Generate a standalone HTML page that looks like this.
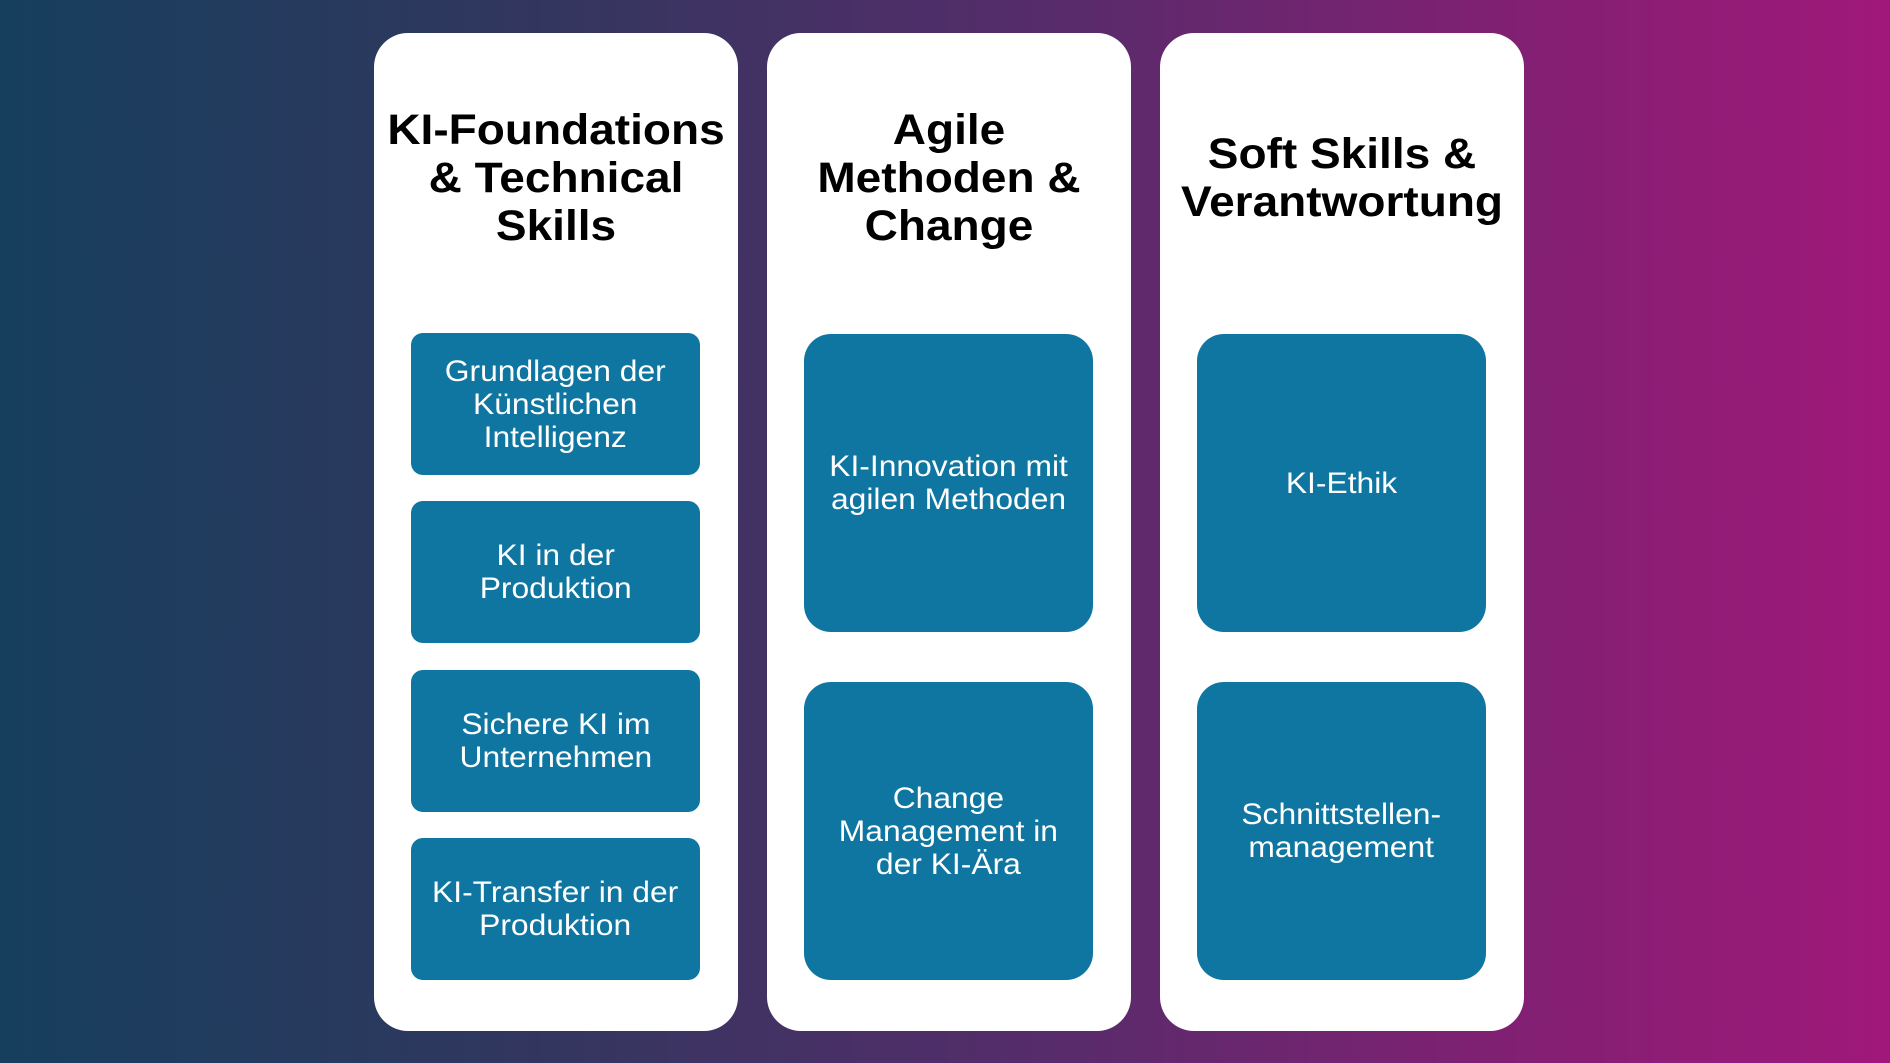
<!DOCTYPE html>
<html><head><meta charset="utf-8"><style>
html,body{margin:0;padding:0;}
body{width:1890px;height:1063px;overflow:hidden;position:relative;
background:linear-gradient(90deg,#163f5d 0%,#34365f 30%,#562c6a 55%,#7e2172 78%,#a0187a 100%);
font-family:"Liberation Sans",sans-serif;}
.card{position:absolute;top:33px;width:364px;height:998px;background:#fff;border-radius:34px;}
.title{position:absolute;left:0;width:100%;text-align:center;font-weight:bold;font-size:43px;line-height:48px;color:#000;transform:scaleX(1.07);}
.box{position:absolute;left:37px;width:289px;background:#0e76a0;color:#fff;display:flex;align-items:center;justify-content:center;text-align:center;font-size:30px;line-height:33px;}
.box span{display:inline-block;transform:scaleX(1.06);white-space:nowrap;}
.s{height:142px;border-radius:12px;}
.b{height:298px;border-radius:27px;}
</style></head><body>
<div class="card" style="left:374px">
<div class="title" style="top:73px">KI-Foundations<br>&amp; Technical<br>Skills</div>
<div class="box s" style="top:300px"><span>Grundlagen der<br>Künstlichen<br>Intelligenz</span></div>
<div class="box s" style="top:468px"><span>KI in der<br>Produktion</span></div>
<div class="box s" style="top:637px"><span>Sichere KI im<br>Unternehmen</span></div>
<div class="box s" style="top:805px"><span>KI-Transfer in der<br>Produktion</span></div>
</div>
<div class="card" style="left:767px">
<div class="title" style="top:73px">Agile<br>Methoden &amp;<br>Change</div>
<div class="box b" style="top:301px"><span>KI-Innovation mit<br>agilen Methoden</span></div>
<div class="box b" style="top:649px"><span>Change<br>Management in<br>der KI-Ära</span></div>
</div>
<div class="card" style="left:1160px">
<div class="title" style="top:97px">Soft Skills &amp;<br>Verantwortung</div>
<div class="box b" style="top:301px"><span>KI-Ethik</span></div>
<div class="box b" style="top:649px"><span>Schnittstellen-<br>management</span></div>
</div>
</body></html>
